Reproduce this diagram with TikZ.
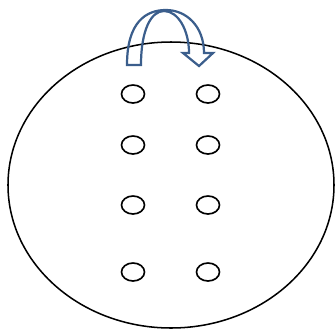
\documentclass[tikz,border=0pt]{standalone}
\usetikzlibrary{shapes.geometric}
\definecolor{ArrowBlue}{HTML}{3B5E8C}
\tikzset{
  plate/.style={draw=black, line width=1.3pt},
  hole/.style={draw=black, ellipse, line width=1.4pt, inner sep=0pt,
    minimum width=0.69cm, minimum height=0.54cm},
  turn/.style={draw=ArrowBlue, line width=1.9pt, line join=miter},
}
\begin{document}
\begin{tikzpicture}[x=0.03cm, y=-0.03cm]
    \useasboundingbox (0,0) rectangle (336,328);
    % base plate
    \draw[plate] (171,185) ellipse [x radius=163, y radius=143];
    % two columns of holes
    \foreach \r/\y in {1/94, 2/145, 3/205, 4/272} {
      \node[hole] (l\r) at (133,\y) {};
      \node[hole] (r\r) at (208,\y) {};
    }
    % turning arrow on top
    \draw[turn] (127,65) .. controls (127,22) and (146,10) .. (166,10)
      .. controls (186,10) and (204,26) .. (204,53)
      -- (213,53) -- (199,66) -- (183,53) -- (189,53)
      .. controls (189,30) and (178,11) .. (164,11)
      .. controls (151,11) and (141,30) .. (141,65) -- cycle;
  \end{tikzpicture}
\end{document}
